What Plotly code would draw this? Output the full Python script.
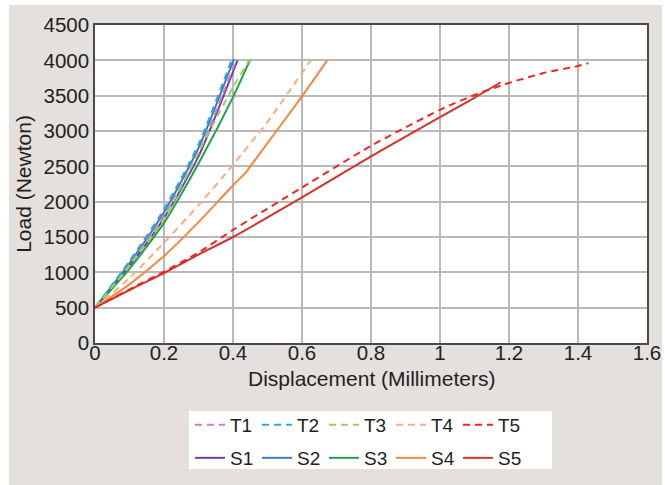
import plotly.graph_objects as go

# ---- data (Displacement mm, Load N) ----
t1_x = [0, 0.1, 0.2, 0.3, 0.41]
t1_y = [500, 1110, 1810, 2690, 4010]
t2_x = [0, 0.1, 0.2, 0.3, 0.398]
t2_y = [500, 1160, 1890, 2810, 4030]
t3_x = [0, 0.1, 0.2, 0.3, 0.4, 0.447]
t3_y = [500, 1090, 1760, 2700, 3620, 4000]
t4_x = [0, 0.1, 0.2, 0.3, 0.4, 0.5, 0.625]
t4_y = [500, 920, 1420, 1950, 2520, 3130, 4000]
t5_x = [0, 0.1, 0.2, 0.3, 0.4, 0.6, 0.8, 1.0, 1.1, 1.2, 1.3, 1.4, 1.43]
t5_y = [500, 760, 1010, 1280, 1600, 2200, 2790, 3300, 3510, 3680, 3820, 3920, 3960]

s1_x = [0, 0.1, 0.2, 0.3, 0.413]
s1_y = [500, 1090, 1770, 2640, 4000]
s2_x = [0, 0.1, 0.2, 0.3, 0.403]
s2_y = [500, 1130, 1850, 2760, 4020]
s3_x = [0, 0.1, 0.2, 0.3, 0.4, 0.449]
s3_y = [500, 1050, 1700, 2540, 3480, 4000]
s4_x = [0, 0.1, 0.2, 0.3, 0.392, 0.44, 0.446, 0.526, 0.6, 0.673]
s4_y = [500, 830, 1230, 1710, 2190, 2430, 2470, 3000, 3490, 4000]
s5_x = [0, 0.1, 0.2, 0.3, 0.4, 0.6, 0.8, 1.0, 1.1, 1.176]
s5_y = [500, 750, 990, 1250, 1500, 2060, 2640, 3195, 3470, 3690]

t_names = ["T1", "T2", "T3", "T4", "T5"]
s_names = ["S1", "S2", "S3", "S4", "S5"]
t_colors = ["#c97fc0", "#29abe2", "#9fcf63", "#f9ad7f", "#ee2524"]
s_colors = ["#7a3d9a", "#3d7cc4", "#1da44a", "#f7883a", "#d7312a"]

x_title = "Displacement (Millimeters)"
y_title = "Load (Newton)"

t_data = [(t1_x, t1_y), (t2_x, t2_y), (t3_x, t3_y), (t4_x, t4_y), (t5_x, t5_y)]
s_data = [(s1_x, s1_y), (s2_x, s2_y), (s3_x, s3_y), (s4_x, s4_y), (s5_x, s5_y)]

fig = go.Figure()
for name, col, (xs, ys) in zip(s_names, s_colors, s_data):
    fig.add_trace(go.Scatter(x=xs, y=ys, mode="lines", name=name, legend="legend2",
                             line=dict(color=col, width=2, shape="spline", smoothing=0.6)))
for name, col, (xs, ys) in zip(t_names, t_colors, t_data):
    fig.add_trace(go.Scatter(x=xs, y=ys, mode="lines", name=name, legend="legend",
                             line=dict(color=col, width=2, dash="7px,5px",
                                       shape="spline", smoothing=0.6)))

W, H = 665, 485
ml, mr, mt, mb = 95, 18, 25, 142
pw, ph = W - ml - mr, H - mt - mb

def px(x):
    return (x - ml) / pw

def py(y):
    return (H - mb - y) / ph

font = "Liberation Sans, Arial, sans-serif"
leg_common = dict(orientation="h", xanchor="left", yanchor="middle",
                  bgcolor="rgba(0,0,0,0)", font=dict(size=19, color="#231f20"),
                  entrywidth=22, entrywidthmode="pixels", traceorder="normal",
                  itemwidth=30, tracegroupgap=0)
fig.update_layout(
    width=W, height=H,
    margin=dict(l=ml, r=mr, t=mt, b=mb, autoexpand=False),
    paper_bgcolor="white",
    plot_bgcolor="white",
    font=dict(family=font, size=20, color="#231f20"),
    showlegend=True,
    legend=dict(x=px(190), y=py(425), **leg_common),
    legend2=dict(x=px(190), y=py(458), **leg_common),
    shapes=[
        dict(type="rect", xref="paper", yref="paper", layer="below",
             x0=px(9), x1=px(662), y0=py(490), y1=py(5),
             fillcolor="#e4e0dd", line=dict(width=0)),
        dict(type="rect", xref="paper", yref="paper", layer="below",
             x0=0, x1=1, y0=0, y1=1, fillcolor="white", line=dict(width=0)),
        dict(type="rect", xref="paper", yref="paper", layer="below",
             x0=px(189), x1=px(552), y0=py(469), y1=py(411),
             fillcolor="white", line=dict(width=0)),
    ],
    annotations=[
        dict(text=x_title, xref="paper", yref="paper", x=px(371), y=py(378),
             xanchor="center", yanchor="middle", showarrow=False,
             font=dict(size=21, color="#231f20")),
    ],
)
fig.update_xaxes(range=[0, 1.6], dtick=0.2, tick0=0, showgrid=True, gridcolor="#b9b9b9", gridwidth=1.5,
                 showline=True, linecolor="#4a4a4a", linewidth=1.5, mirror=True, zeroline=False,
                 ticks="", ticklabelstandoff=-9,
                 tickfont=dict(size=20.5))
fig.update_yaxes(range=[0, 4500], dtick=500, tick0=0, showgrid=True, gridcolor="#b9b9b9", gridwidth=1.5,
                 showline=True, linecolor="#4a4a4a", linewidth=1.5, mirror=True, zeroline=False,
                 ticks="", title=dict(text=y_title, standoff=6, font=dict(size=21)),
                 tickfont=dict(size=20.5))

fig.write_html("out.html", config={"displayModeBar": False},
               post_script="document.body.style.margin='0';document.body.style.overflow='hidden';")
